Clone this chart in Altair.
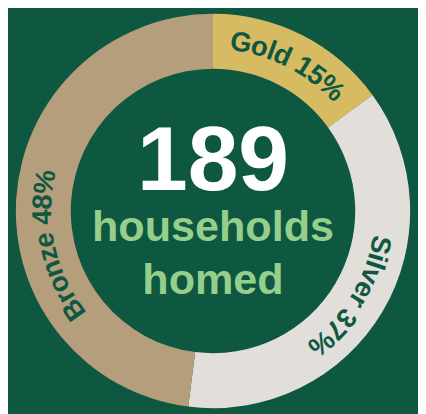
import math
import altair as alt
import pandas as pd

# ---- data ----
labels = ["Gold", "Silver", "Bronze"]
shares = [15, 37, 48]
center_lines = ["189", "households", "homed"]

# ---- style ----
BG = "#0e5741"
seg_colors = ["#d7bb62", "#e2dfdb", "#b59e7b"]
label_color = "#0e5741"
center_green = "#95cf8b"
FONT = "Liberation Sans"
R_OUT, R_IN, R_TXT = 201, 145, 173
LABEL_FS = 28
label_shift_deg = {"Gold": 0.0, "Silver": 1.0, "Bronze": -16.0}

# Arial/Liberation Sans Bold advance widths (per 1000 em)
ADV = {" ": 278, "G": 778, "o": 611, "l": 278, "d": 611, "1": 556, "5": 556,
       "%": 889, "S": 667, "i": 278, "v": 556, "e": 556, "r": 389, "3": 556,
       "7": 556, "B": 722, "n": 611, "z": 500, "4": 556, "8": 556}

arc_df = pd.DataFrame({"label": labels, "share": shares, "order": list(range(len(labels)))})

rows = []
start = 0.0
for lab, sh in zip(labels, shares):
    txt = f"{lab} {sh}%"
    widths = [ADV.get(c, 556) / 1000 * LABEL_FS for c in txt]
    total = sum(widths)
    mid_deg = (start + sh / 2) * 3.6 + label_shift_deg[lab]
    cum = 0.0
    for c, w in zip(txt, widths):
        s = cum + w / 2 - total / 2
        deg = mid_deg + math.degrees(s / R_TXT)
        cum += w
        if c == " ":
            continue
        rows.append({"ch": c, "pct": deg / 3.6, "rot": deg % 360})
    start += sh
char_df = pd.DataFrame(rows)

theta_scale = alt.Scale(domain=[0, 100])

arcs = alt.Chart(arc_df).mark_arc(radius=R_OUT, radius2=R_IN).encode(
    theta=alt.Theta("share:Q", stack=True, scale=theta_scale),
    color=alt.Color("label:N", scale=alt.Scale(domain=labels, range=seg_colors), legend=None),
    order=alt.Order("order:Q"),
)

seg_text = alt.Chart(char_df).mark_text(
    radius=R_TXT, font=FONT, fontSize=LABEL_FS, fontWeight="bold",
    color=label_color, align="center", baseline="middle",
).encode(
    theta=alt.Theta("pct:Q", stack=None, scale=theta_scale),
    angle=alt.Angle("rot:Q", scale=None),
    text="ch:N",
)

def center_text(s, size, color, dy):
    return alt.Chart(pd.DataFrame({"t": [s]})).mark_text(
        font=FONT, fontSize=size, fontWeight="bold", color=color,
        align="center", baseline="alphabetic", dy=dy,
    ).encode(text="t:N")

num = center_text(center_lines[0], 93, "#ffffff", -21)
l1 = center_text(center_lines[1], 44, center_green, 31)
l2 = center_text(center_lines[2], 44, center_green, 85)

chart = alt.layer(arcs, seg_text, num, l1, l2).properties(
    width=418, height=406, padding=0, background=BG,
    autosize=alt.AutoSizeParams(type="none"),
).configure_view(stroke=None)

chart.save("out.html", embed_options={"renderer": "svg", "actions": False})
